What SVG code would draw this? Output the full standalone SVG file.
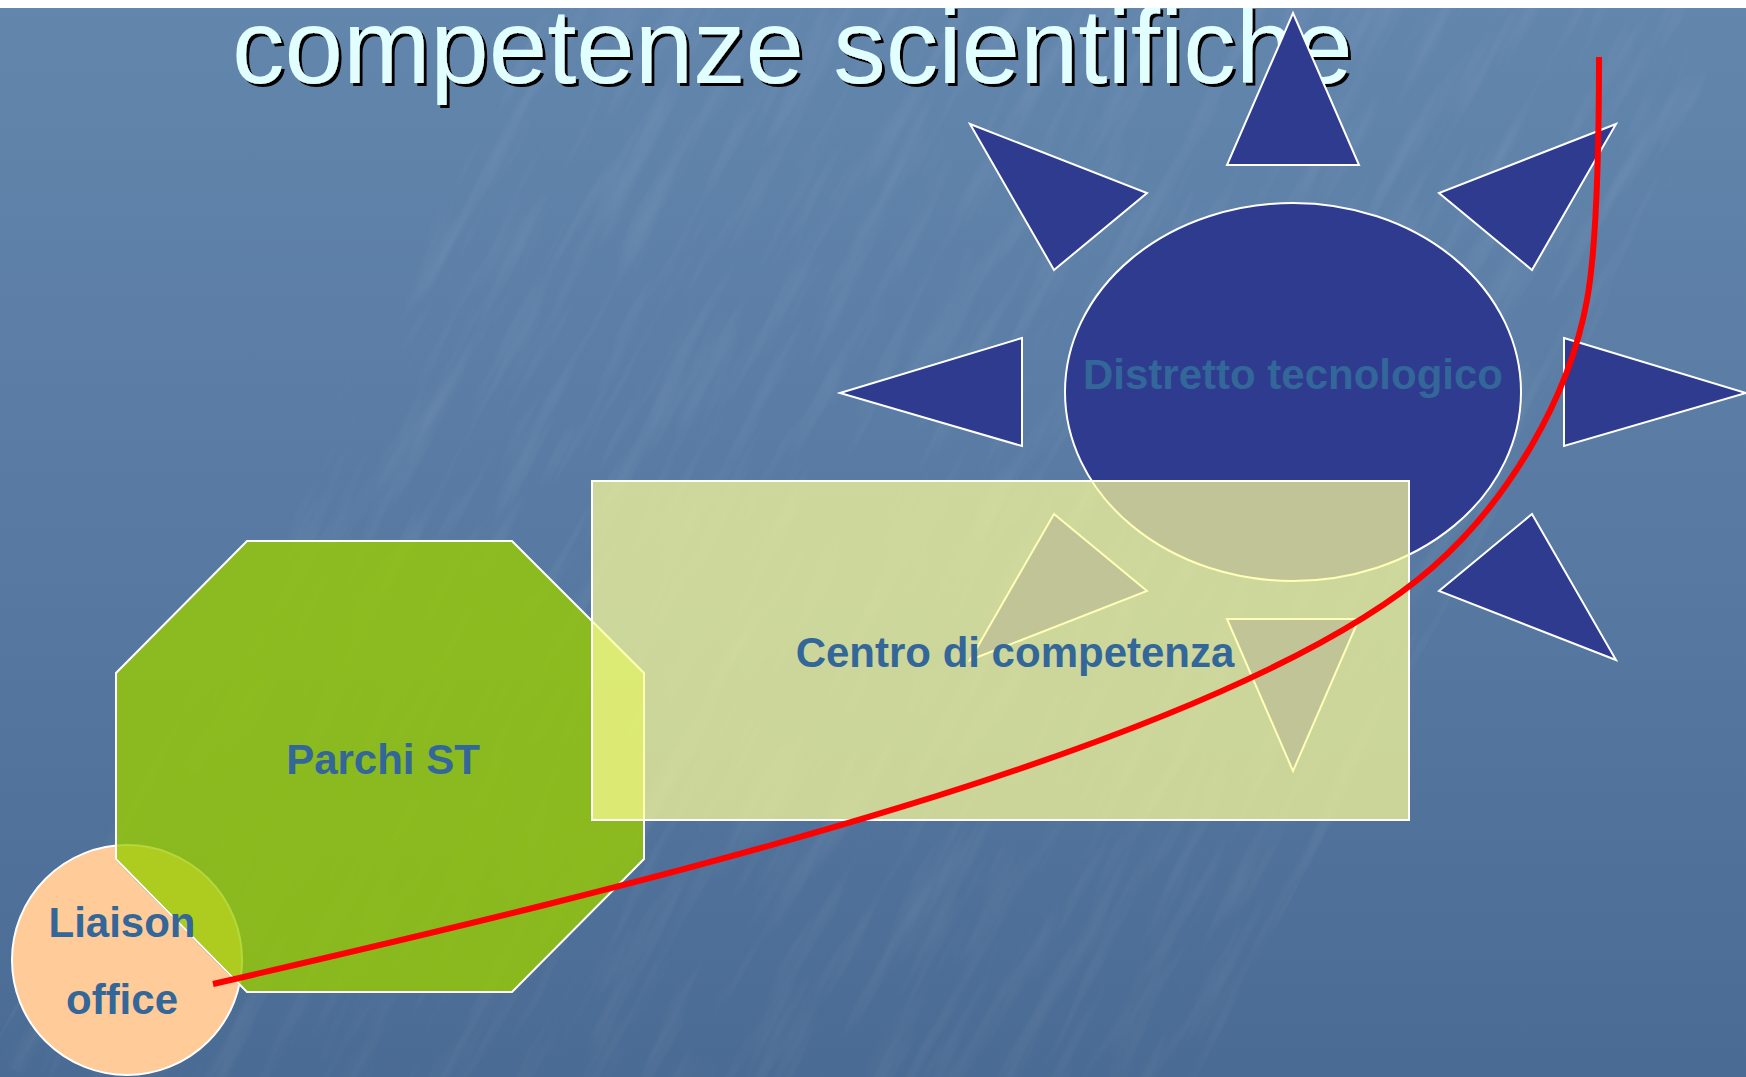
<svg xmlns="http://www.w3.org/2000/svg" width="1746" height="1077" viewBox="0 0 1746 1077">
  <defs>
    <linearGradient id="bg" x1="0" y1="0" x2="0" y2="1">
      <stop offset="0" stop-color="#6386ad"/>
      <stop offset="0.55" stop-color="#5779a1"/>
      <stop offset="1" stop-color="#4a6b93"/>
    </linearGradient>
    <filter id="tex" x="0" y="0" width="100%" height="100%" filterUnits="userSpaceOnUse">
      <feTurbulence type="fractalNoise" baseFrequency="0.006 0.05" numOctaves="3" seed="7"/>
      <feColorMatrix type="matrix" values="0 0 0 0 1  0 0 0 0 1  0 0 0 0 1  0 0 0 1.6 -0.75"/>
    </filter>
    <filter id="shadow" x="-5%" y="-20%" width="110%" height="140%">
      <feDropShadow dx="3" dy="3" stdDeviation="0" flood-color="#000000" flood-opacity="1"/>
    </filter>
    <clipPath id="outsideOct">
      <path clip-rule="evenodd" d="M0,0H1746V1077H0Z M246.6,540 L512.4,540 L645,672.6 L645,859.4 L512.4,993 L246.6,993 L115,859.4 L115,672.6 Z"/>
    </clipPath>
    <clipPath id="insideOct">
      <polygon points="247.4,542 511.6,542 643,673.4 643,858.6 511.6,991 247.4,991 117,858.6 117,673.4"/>
    </clipPath>
    <style>
      .ray { fill: #2f3b8f; stroke: #ffffff; stroke-width: 2; stroke-linejoin: miter; }
      .lbl { font-family: "Liberation Sans", Arial, sans-serif; font-weight: bold; font-size: 42px; fill: #336699; text-anchor: middle; }
      .title { font-family: "Liberation Sans", Arial, sans-serif; font-size: 105px; fill: #e2ffff; }
      .conn { fill: none; stroke: #ff0000; stroke-width: 6; stroke-linecap: butt; }
    </style>
  </defs>

  <!-- background -->
  <rect x="0" y="0" width="1746" height="1077" fill="url(#bg)"/>
  <g transform="rotate(-62 873 538)" opacity="0.09">
    <rect x="-600" y="-700" width="2950" height="2480" filter="url(#tex)"/>
  </g>

  <!-- title -->
  <text class="title" x="232" y="83" filter="url(#shadow)">competenze scientifiche</text>

  <!-- Distretto tecnologico (sun) -->
  <g id="distretto-tecnologico">
    <polygon class="ray" points="1293,13 1359,165 1227,165"/>
    <polygon class="ray" points="1616,124 1439,193 1532,270"/>
    <polygon class="ray" points="970,124 1147,193 1054,270"/>
    <polygon class="ray" points="1564,338 1746,393 1564,446"/>
    <polygon class="ray" points="1022,338 840,393 1022,446"/>
    <polygon class="ray" points="1616,660 1439,591 1532,514"/>
    <polygon class="ray" points="970,660 1147,591 1054,514"/>
    <polygon class="ray" points="1227,619 1359,619 1293,771"/>
    <ellipse cx="1293" cy="392" rx="228" ry="189" fill="#2f3b8f" stroke="#ffffff" stroke-width="2"/>
    <text class="lbl" x="1293" y="389">Distretto tecnologico</text>
  </g>

  <!-- Parchi ST -->
  <g id="parchi-st">
    <polygon points="247,541 512,541 644,673 644,859 512,992 247,992 116,859 116,673" fill="#99cc00" fill-opacity="0.8" stroke="#ffffff" stroke-width="2"/>
    <text class="lbl" x="383" y="774">Parchi ST</text>
  </g>

  <!-- Liaison office (lies under the translucent octagon) -->
  <g id="liaison-office">
    <circle cx="127" cy="960" r="115" fill="#ffcc99" stroke="#ffffff" stroke-width="2" clip-path="url(#outsideOct)"/>
    <circle cx="127" cy="960" r="115" fill="#aecc20" stroke="#b4d83a" stroke-width="2" clip-path="url(#insideOct)"/>
    <text class="lbl" x="122" y="937">Liaison</text>
    <text class="lbl" x="122" y="1014">office</text>
  </g>

  <!-- Centro di competenza -->
  <g id="centro-di-competenza">
    <rect x="592" y="481" width="817" height="339" fill="#ffff99" fill-opacity="0.7" stroke="#ffffff" stroke-width="2"/>
    <text class="lbl" x="1015" y="667">Centro di competenza</text>
  </g>

  <!-- connectors -->
  <g id="connectors">
    <path class="conn" d="M213,984 C631.8,887.7 1230.2,745.2 1433,567 C1508.1,501 1569.1,398.4 1587,300 C1597.7,241 1599,137 1599,57"/>
  </g>

  <!-- top white strip -->
  <rect x="0" y="0" width="1746" height="8" fill="#ffffff"/>
</svg>
